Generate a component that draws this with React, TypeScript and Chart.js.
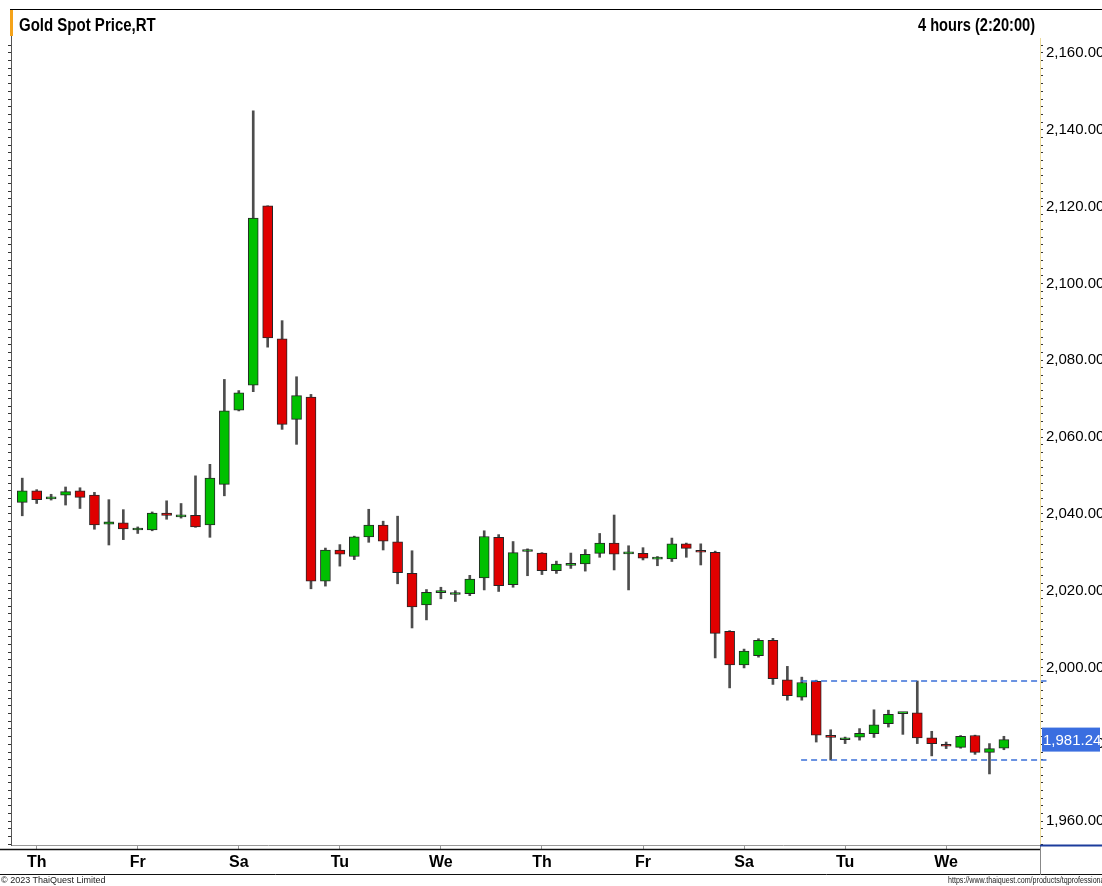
import React, { useEffect, useRef } from 'react';
import { Chart, registerables } from 'chart.js';

Chart.register(...registerables);

const dayLabels = ['Th', 'Fr', 'Sa', 'Tu', 'We', 'Th', 'Fr', 'Sa', 'Tu', 'We'];
const dayStartIndex = [1, 8, 15, 22, 29, 36, 43, 50, 57, 64];

const opens = [
  2043.0, 2046.0, 2043.9, 2044.9, 2046.0, 2044.9, 2037.3, 2037.7, 2035.8, 2035.8,
  2040.2, 2039.2, 2039.6, 2037.1, 2047.7, 2067.0, 2073.5, 2120.2, 2085.6, 2064.6,
  2070.4, 2022.5, 2030.6, 2028.9, 2034.0, 2037.1, 2032.7, 2024.5, 2016.3, 2019.5,
  2019.0, 2019.2, 2023.3, 2033.9, 2021.6, 2030.2, 2029.8, 2025.2, 2026.6, 2027.0,
  2029.7, 2032.4, 2029.6, 2029.7, 2028.2, 2028.3, 2032.2, 2030.4, 2030.0, 2009.4,
  2000.7, 2003.1, 2007.1, 1996.8, 1992.3, 1996.4, 1982.1, 1981.2, 1981.9, 1982.8,
  1985.4, 1988.0, 1988.2, 1981.7, 1980.0, 1979.2, 1982.3, 1977.9, 1979.0,
];
const highs = [
  2049.3, 2046.3, 2045.1, 2047.0, 2046.8, 2045.6, 2043.7, 2041.1, 2036.6, 2040.5,
  2043.4, 2042.7, 2049.9, 2052.9, 2075.0, 2072.1, 2144.9, 2120.2, 2090.3, 2075.7,
  2071.1, 2031.1, 2032.0, 2034.2, 2041.2, 2038.1, 2039.4, 2030.4, 2020.3, 2020.9,
  2020.0, 2024.0, 2035.6, 2034.6, 2032.8, 2030.9, 2029.9, 2027.7, 2029.8, 2030.7,
  2034.9, 2039.7, 2031.7, 2031.2, 2028.9, 2033.7, 2032.4, 2032.2, 2030.3, 2009.6,
  2004.8, 2007.5, 2007.6, 2000.3, 1997.5, 1996.7, 1983.8, 1981.9, 1984.1, 1989.0,
  1988.9, 1988.2, 1996.5, 1983.4, 1980.6, 1982.3, 1982.4, 1980.2, 1982.1,
];
const lows = [
  2039.5, 2042.7, 2043.6, 2042.3, 2041.4, 2036.0, 2031.9, 2033.3, 2034.9, 2035.6,
  2038.6, 2038.9, 2036.5, 2033.9, 2044.7, 2066.8, 2071.8, 2083.4, 2062.0, 2058.1,
  2020.5, 2021.2, 2026.4, 2028.1, 2032.6, 2030.6, 2021.8, 2010.3, 2012.4, 2017.9,
  2017.2, 2018.7, 2020.2, 2019.8, 2020.9, 2023.9, 2024.2, 2024.5, 2025.8, 2025.1,
  2028.7, 2025.4, 2020.2, 2028.0, 2026.5, 2027.6, 2028.7, 2026.7, 2002.5, 1994.7,
  1999.9, 2002.7, 1995.6, 1991.5, 1991.5, 1980.6, 1975.9, 1980.2, 1981.1, 1981.8,
  1984.5, 1982.6, 1980.2, 1977.0, 1978.9, 1979.0, 1977.4, 1972.3, 1978.6,
];
const closes = [
  2046.0, 2043.7, 2044.0, 2045.8, 2044.3, 2037.1, 2037.9, 2036.1, 2035.9, 2040.2,
  2039.6, 2039.3, 2036.6, 2049.3, 2066.8, 2071.5, 2117.0, 2085.8, 2063.3, 2070.8,
  2022.5, 2030.6, 2029.5, 2034.0, 2037.1, 2032.9, 2024.7, 2015.8, 2019.6, 2019.6,
  2019.1, 2023.0, 2034.1, 2021.3, 2029.9, 2030.3, 2025.2, 2026.9, 2026.7, 2029.5,
  2032.4, 2029.5, 2029.7, 2028.5, 2028.3, 2032.2, 2031.0, 2030.0, 2008.9, 2000.7,
  2004.3, 2007.1, 1997.1, 1992.7, 1996.1, 1982.4, 1981.8, 1981.3, 1982.9, 1985.1,
  1987.8, 1988.1, 1981.7, 1980.2, 1979.5, 1982.1, 1977.9, 1978.9, 1981.24,
];

const rangeHigh = 1996.5;
const rangeLow = 1975.9;
const rangeStartIndex = 54;

const yMin = 1953.8;
const yMax = 2170.65;
const yTickTop = 2163;
const yLabelStep = 20;
const yMinorStep = 2;

const FONT = "'Liberation Sans', Arial, sans-serif";
const UP = '#00c000';
const DOWN = '#e00000';

const fmt = (v: number) =>
  v.toLocaleString('en-US', { minimumFractionDigits: 2, maximumFractionDigits: 2 });

const framePlugin = {
  id: 'frame',
  afterDraw(chart: any) {
    const ctx = chart.ctx;
    const area = chart.chartArea;
    const W = chart.width;
    ctx.save();
    ctx.strokeStyle = '#000';
    ctx.lineWidth = 1;
    ctx.beginPath();
    ctx.moveTo(10, 9.5);
    ctx.lineTo(W, 9.5);
    ctx.stroke();
    ctx.fillStyle = '#f5a31a';
    ctx.fillRect(10, 10, 3, 26);
    ctx.strokeStyle = '#ecdc9e';
    ctx.beginPath();
    ctx.moveTo(area.right + 0.5, 38);
    ctx.lineTo(area.right + 0.5, area.bottom);
    ctx.stroke();
    ctx.strokeStyle = '#111';
    ctx.lineWidth = 1.5;
    ctx.beginPath();
    ctx.moveTo(0, area.bottom + 4.5);
    ctx.lineTo(area.right, area.bottom + 4.5);
    ctx.stroke();
    ctx.lineWidth = 1;
    ctx.beginPath();
    ctx.moveTo(0, 874.5);
    ctx.lineTo(W, 874.5);
    ctx.stroke();
    ctx.strokeStyle = '#888';
    ctx.beginPath();
    ctx.moveTo(area.right + 0.5, area.bottom);
    ctx.lineTo(area.right + 0.5, 875);
    ctx.stroke();
    ctx.strokeStyle = '#1c3c9c';
    ctx.lineWidth = 2;
    ctx.beginPath();
    ctx.moveTo(area.right, area.bottom + 0.5);
    ctx.lineTo(W, area.bottom + 0.5);
    ctx.stroke();
    const last = closes[closes.length - 1];
    const y = chart.scales.y.getPixelForValue(last);
    ctx.fillStyle = '#3a6ee0';
    ctx.fillRect(area.right + 2, y - 12, 58, 24);
    ctx.fillStyle = '#fff';
    ctx.font = `15px ${FONT}`;
    ctx.textBaseline = 'middle';
    ctx.textAlign = 'left';
    ctx.fillText(fmt(last), area.right + 3, y + 1);
    ctx.restore();
  },
};

export default function App() {
  const canvasRef = useRef<HTMLCanvasElement | null>(null);

  useEffect(() => {
    const canvas = canvasRef.current;
    if (!canvas) return;
    const bodyColors = opens.map((o, i) => (closes[i] >= o ? UP : DOWN));
    const lastX = 70.95;
    const minorTicks = () => {
      const t: any[] = [];
      for (let v = Math.ceil(yMin / yMinorStep) * yMinorStep; v <= yTickTop; v += yMinorStep) t.push({ value: v });
      return t;
    };
    const chart = new Chart(canvas, {
      type: 'bar',
      data: {
        datasets: [
          {
            type: 'bar',
            label: 'wick',
            data: highs.map((h, i) => ({ x: i, y: [lows[i], h] })) as any,
            backgroundColor: '#4d4d4d',
            barThickness: 2,
            grouped: false,
            order: 2,
            yAxisID: 'y',
          } as any,
          {
            type: 'bar',
            label: 'body',
            data: opens.map((o, i) => ({ x: i, y: [o, closes[i]] })) as any,
            backgroundColor: bodyColors,
            borderColor: '#262626',
            borderWidth: 1,
            borderSkipped: false,
            barThickness: 10,
            minBarLength: 2,
            grouped: false,
            order: 1,
            yAxisID: 'y',
          } as any,
          {
            type: 'line',
            label: 'rangeHigh',
            data: [
              { x: rangeStartIndex - 0.05, y: rangeHigh },
              { x: lastX, y: rangeHigh },
            ],
            borderColor: '#3a6fd8',
            borderWidth: 1.5,
            borderDash: [6, 4],
            pointRadius: 0,
            clip: false,
            order: 0,
            yAxisID: 'y',
          } as any,
          {
            type: 'line',
            label: 'rangeLow',
            data: [
              { x: rangeStartIndex - 0.05, y: rangeLow },
              { x: lastX, y: rangeLow },
            ],
            borderColor: '#3a6fd8',
            borderWidth: 1.5,
            borderDash: [6, 4],
            pointRadius: 0,
            clip: false,
            order: 0,
            yAxisID: 'y',
          } as any,
        ],
      },
      options: {
        responsive: false,
        animation: false,
        devicePixelRatio: 1,
        layout: { padding: { top: 10, left: 8, right: 0, bottom: 11 } },
        plugins: { legend: { display: false }, tooltip: { enabled: false }, title: { display: false } },
        scales: {
          x: {
            type: 'linear',
            min: -0.78,
            max: 70.5,
            offset: false,
            grid: { offset: false, drawOnChartArea: false, drawTicks: true, tickLength: 4, color: '#999' },
            border: { display: true, color: '#999' },
            afterBuildTicks: (s: any) => {
              s.ticks = dayStartIndex.map((v) => ({ value: v }));
            },
            afterFit: (s: any) => {
              s.height = 30;
            },
            ticks: {
              autoSkip: false,
              maxRotation: 0,
              padding: 4,
              color: '#000',
              font: { family: FONT, size: 16, weight: 'bold' },
              callback: (v: any) => {
                const k = dayStartIndex.indexOf(Number(v));
                return k >= 0 ? dayLabels[k] : '';
              },
            },
          } as any,
          y: {
            type: 'linear',
            position: 'right',
            min: yMin,
            max: yMax,
            grid: { drawOnChartArea: false, drawTicks: true, tickLength: 3, color: '#333' },
            border: { display: false },
            afterBuildTicks: (s: any) => {
              s.ticks = minorTicks();
            },
            afterFit: (s: any) => {
              s.width = 62;
            },
            ticks: {
              autoSkip: false,
              padding: 3,
              color: '#000',
              font: { family: FONT, size: 15 },
              callback: (v: any) => (Math.round(Number(v)) % yLabelStep === 0 ? fmt(Number(v)) : ''),
            },
          } as any,
          yl: {
            type: 'linear',
            position: 'left',
            min: yMin,
            max: yMax,
            grid: { drawOnChartArea: false, drawTicks: true, tickLength: 3, color: '#333' },
            border: { display: true, color: '#555' },
            afterBuildTicks: (s: any) => {
              s.ticks = minorTicks();
            },
            afterFit: (s: any) => {
              s.width = 3;
            },
            ticks: { display: false },
          } as any,
        },
      },
      plugins: [framePlugin],
    });
    return () => chart.destroy();
  }, []);

  const textBase: React.CSSProperties = {
    position: 'absolute',
    fontFamily: FONT,
    color: '#000',
    whiteSpace: 'nowrap',
    lineHeight: '20px',
  };

  return (
    <div
      style={{
        position: 'fixed',
        left: 0,
        top: 0,
        width: 1102,
        height: 886,
        overflow: 'hidden',
        background: '#fff',
      }}
    >
      <canvas ref={canvasRef} width={1102} height={886} style={{ position: 'absolute', left: 0, top: 0, width: 1102, height: 886 }} />
      <div
        style={{
          ...textBase,
          left: 19,
          top: 15,
          fontSize: 19,
          fontWeight: 'bold',
          transform: 'scaleX(0.79)',
          transformOrigin: 'left center',
        }}
      >
        Gold Spot Price,RT
      </div>
      <div
        style={{
          ...textBase,
          right: 67,
          top: 15,
          fontSize: 19,
          fontWeight: 'bold',
          transform: 'scaleX(0.77)',
          transformOrigin: 'right center',
        }}
      >
        4 hours (2:20:00)
      </div>
      <div style={{ ...textBase, left: 1, top: 875, fontSize: 9, lineHeight: '11px', color: '#222' }}>© 2023 ThaiQuest Limited</div>
      <div
        style={{
          ...textBase,
          left: 948,
          top: 875,
          fontSize: 9,
          lineHeight: '11px',
          color: '#222',
          transform: 'scaleX(0.79)',
          transformOrigin: 'left center',
        }}
      >
        https://www.thaiquest.com/products/tqprofessional
      </div>
    </div>
  );
}
